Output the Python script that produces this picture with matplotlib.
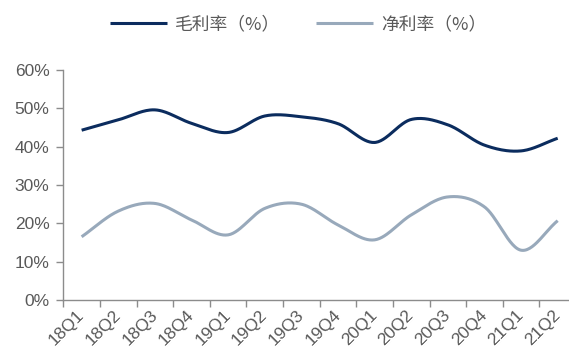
import numpy as np
import matplotlib.pyplot as plt
from matplotlib.ticker import FixedLocator

plt.rcParams['font.family'] = ['Noto Sans CJK SC', 'DejaVu Sans']

# Données
quarters = ['18Q1', '18Q2', '18Q3', '18Q4', '19Q1', '19Q2', '19Q3',
            '19Q4', '20Q1', '20Q2', '20Q3', '20Q4', '21Q1', '21Q2']
gross = [44.3, 47.0, 49.6, 46.1, 43.7, 48.0, 47.8,
         46.0, 41.1, 47.1, 45.7, 40.4, 38.9, 42.2]
net = [16.5, 23.2, 25.2, 20.9, 17.0, 23.9, 25.0,
       19.6, 15.7, 22.2, 26.9, 24.3, 13.0, 20.7]


def smooth(y, n=30):
    # courbe lissée type Excel (Catmull-Rom)
    y = np.asarray(y, dtype=float)
    x = np.arange(len(y), dtype=float)
    px = np.concatenate([[2 * x[0] - x[1]], x, [2 * x[-1] - x[-2]]])
    py = np.concatenate([[2 * y[0] - y[1]], y, [2 * y[-1] - y[-2]]])
    xs, ys = [], []
    t = np.linspace(0, 1, n, endpoint=False)
    for i in range(1, len(px) - 2):
        for arr, out in ((px, xs), (py, ys)):
            p0, p1, p2, p3 = arr[i - 1], arr[i], arr[i + 1], arr[i + 2]
            out.extend(0.5 * (2 * p1 + (-p0 + p2) * t
                              + (2 * p0 - 5 * p1 + 4 * p2 - p3) * t ** 2
                              + (-p0 + 3 * p1 - 3 * p2 + p3) * t ** 3))
    xs.append(x[-1])
    ys.append(y[-1])
    return np.array(xs), np.array(ys)


fig = plt.figure(figsize=(5.69, 3.53), dpi=100)
ax = fig.add_axes([0.1113, 0.150, 0.9010, 0.6517])

gx, gy = smooth(gross)
nx, ny = smooth(net)
ax.plot(gx, gy, color='#0b2c5e', linewidth=2.2, label='毛利率（%）', solid_capstyle='butt')
ax.plot(nx, ny, color='#98a9bb', linewidth=2.2, label='净利率（%）', solid_capstyle='butt')

ax.set_xlim(-0.5, len(quarters) - 0.5)
ax.set_ylim(0, 60)
ax.set_yticks(range(0, 61, 10))
ax.set_yticklabels([f'{v}%' for v in range(0, 61, 10)], family='Liberation Sans')

ax.set_xticks(range(len(quarters)))
ax.set_xticklabels(quarters, rotation=45, ha='right', va='center',
                   rotation_mode='anchor', family='Liberation Sans')
ax.xaxis.set_minor_locator(FixedLocator(np.arange(-0.5, len(quarters) + 0.5, 1)))
ax.tick_params(axis='x', which='major', length=0, pad=9, labelsize=12.5, labelcolor='#595959')
ax.tick_params(axis='x', which='minor', length=5, color='#8c8c8c', width=1)
ax.tick_params(axis='y', length=5, color='#8c8c8c', width=1, labelsize=12.5,
               labelcolor='#595959', pad=5)

for s in ['top', 'right']:
    ax.spines[s].set_visible(False)
for s in ['left', 'bottom']:
    ax.spines[s].set_color('#8c8c8c')
    ax.spines[s].set_linewidth(1)

fig.legend(loc='center', bbox_to_anchor=(0.524, 0.93), ncol=2, frameon=False,
           prop={'family': ['Noto Sans CJK SC'], 'size': 12.8, 'weight': 'light'},
           labelcolor='#595959', handlelength=3.2, columnspacing=2.0,
           handletextpad=0.45)

plt.savefig('out.png', dpi=100)
